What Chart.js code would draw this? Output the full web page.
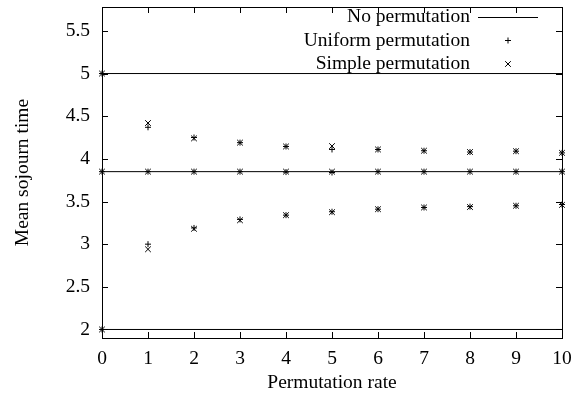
<!DOCTYPE html>
<html>
<head>
<meta charset="utf-8">
<script src="https://cdn.jsdelivr.net/npm/chart.js@4/dist/chart.umd.min.js"></script>
<style>
  html, body { margin: 0; padding: 0; background: #fff; }
</style>
</head>
<body>
<canvas id="chart" width="573" height="403"></canvas>
<script>
const rates = [0, 1, 2, 3, 4, 5, 6, 7, 8, 9, 10];
const noPermLevels = [5, 3.85, 2];

const uniformHigh = [5, 4.37, 4.25, 4.19, 4.145, 4.11, 4.11, 4.095, 4.08, 4.09, 4.07];
const uniformMid = [3.85, 3.85, 3.85, 3.85, 3.845, 3.84, 3.85, 3.85, 3.85, 3.85, 3.85];
const uniformLow = [2, 3.0, 3.19, 3.29, 3.34, 3.38, 3.41, 3.43, 3.44, 3.45, 3.465];

const simpleHigh = [5, 4.42, 4.24, 4.19, 4.145, 4.15, 4.11, 4.095, 4.08, 4.09, 4.07];
const simpleMid = [3.85, 3.85, 3.85, 3.85, 3.85, 3.85, 3.85, 3.85, 3.85, 3.85, 3.85];
const simpleLow = [2, 2.94, 3.18, 3.28, 3.34, 3.375, 3.41, 3.43, 3.435, 3.45, 3.46];

const yTicks = [2, 2.5, 3, 3.5, 4, 4.5, 5, 5.5];
const legendLabels = ["No permutation", "Uniform permutation", "Simple permutation"];

const FONT = { family: "'Liberation Serif', 'DejaVu Serif', serif", size: 19.5 };

function toPoints(values) {
  return values.map((v, i) => ({ x: rates[i], y: v }));
}

function pointSet(label, values, style, radius) {
  return {
    label,
    data: toPoints(values),
    showLine: false,
    pointStyle: style,
    pointRadius: radius,
    pointBorderWidth: 1,
    pointBorderColor: "#000",
    pointBackgroundColor: "#000",
    clip: false,
  };
}

const lineSets = noPermLevels.map((level) => ({
  label: legendLabels[0],
  data: [{ x: rates[0], y: level }, { x: rates[rates.length - 1], y: level }],
  showLine: true,
  borderColor: "#000",
  borderWidth: 1,
  pointRadius: 0,
}));

const datasets = [
  ...lineSets,
  pointSet(legendLabels[1], uniformHigh, "cross", 3),
  pointSet(legendLabels[1], uniformMid, "cross", 3),
  pointSet(legendLabels[1], uniformLow, "cross", 3),
  pointSet(legendLabels[2], simpleHigh, "crossRot", 4),
  pointSet(legendLabels[2], simpleMid, "crossRot", 4),
  pointSet(legendLabels[2], simpleLow, "crossRot", 4),
];

// gnuplot-like frame with inward ticks on all four sides
const framePlugin = {
  id: "frame",
  afterDatasetsDraw(chart) {
    const { ctx, chartArea, scales } = chart;
    const tick = 6;
    ctx.save();
    ctx.strokeStyle = "#000";
    ctx.lineWidth = 1;
    ctx.beginPath();
    scales.x.ticks.forEach((t) => {
      const px = Math.round(scales.x.getPixelForValue(t.value)) + 0.5;
      ctx.moveTo(px, chartArea.bottom);
      ctx.lineTo(px, chartArea.bottom - tick);
      ctx.moveTo(px, chartArea.top);
      ctx.lineTo(px, chartArea.top + tick);
    });
    scales.y.ticks.forEach((t) => {
      const py = Math.round(scales.y.getPixelForValue(t.value)) + 0.5;
      ctx.moveTo(chartArea.left, py);
      ctx.lineTo(chartArea.left + tick, py);
      ctx.moveTo(chartArea.right, py);
      ctx.lineTo(chartArea.right - tick, py);
    });
    ctx.stroke();
    ctx.strokeRect(
      Math.round(chartArea.left) + 0.5,
      Math.round(chartArea.top) + 0.5,
      Math.round(chartArea.right - chartArea.left),
      Math.round(chartArea.bottom - chartArea.top)
    );
    ctx.restore();
  },
};

const legendPlugin = {
  id: "gnuLegend",
  afterDraw(chart) {
    const { ctx, chartArea } = chart;
    const textRight = chartArea.right - 92;
    const sampleLeft = chartArea.right - 84;
    const sampleRight = chartArea.right - 24;
    const styles = [null, "cross", "crossRot"];
    const radii = [0, 3, 4];
    ctx.save();
    ctx.font = `${FONT.size}px ${FONT.family}`;
    ctx.fillStyle = "#000";
    ctx.strokeStyle = "#000";
    ctx.lineWidth = 1;
    ctx.textAlign = "right";
    ctx.textBaseline = "middle";
    legendLabels.forEach((label, i) => {
      const y = chartArea.top + 10 + i * 23.5;
      ctx.fillText(label, textRight, y);
      if (i === 0) {
        ctx.beginPath();
        ctx.moveTo(sampleLeft, Math.round(y) + 0.5);
        ctx.lineTo(sampleRight, Math.round(y) + 0.5);
        ctx.stroke();
      } else {
        Chart.helpers.drawPoint(
          ctx,
          { pointStyle: styles[i], radius: radii[i], rotation: 0, borderWidth: 1 },
          (sampleLeft + sampleRight) / 2,
          y
        );
      }
    });
    ctx.restore();
  },
};

new Chart(document.getElementById("chart"), {
  type: "scatter",
  data: { datasets },
  options: {
    responsive: false,
    animation: false,
    devicePixelRatio: 1,
    layout: { padding: { top: 7, right: 11, bottom: 0, left: 0 } },
    plugins: {
      legend: { display: false },
      tooltip: { enabled: false },
    },
    scales: {
      x: {
        type: "linear",
        min: 0,
        max: 10,
        grid: { display: false, drawTicks: false },
        border: { display: false },
        ticks: { stepSize: 1, color: "#000", font: FONT, padding: 9, maxRotation: 0 },
        title: {
          display: true,
          text: "Permutation rate",
          color: "#000",
          font: FONT,
          padding: { top: 0, bottom: 8 },
        },
        afterFit: (scale) => {
          scale.height = 65;
          scale.paddingLeft = 0;
          scale.paddingRight = 0;
        },
      },
      y: {
        type: "linear",
        min: 1.9,
        max: 5.78,
        grid: { display: false, drawTicks: false },
        border: { display: false },
        ticks: { color: "#000", font: FONT, padding: 12, callback: (value) => String(value) },
        afterBuildTicks: (scale) => { scale.ticks = yTicks.map((v) => ({ value: v })); },
        title: {
          display: true,
          text: "Mean sojourn time",
          color: "#000",
          font: FONT,
          padding: { top: 11, bottom: 0 },
        },
        afterFit: (scale) => {
          scale.width = 102;
          scale.paddingTop = 0;
          scale.paddingBottom = 0;
        },
      },
    },
  },
  plugins: [framePlugin, legendPlugin],
});
</script>
</body>
</html>
